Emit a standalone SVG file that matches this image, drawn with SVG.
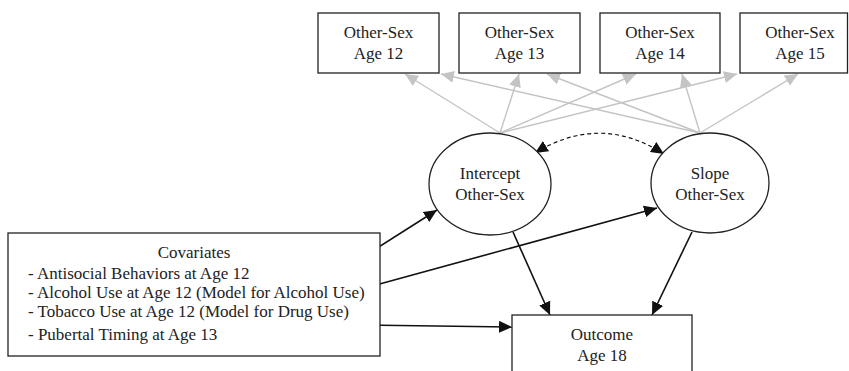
<svg xmlns="http://www.w3.org/2000/svg" width="849" height="371" viewBox="0 0 849 371">
<style>
text{font-family:"Liberation Serif","Times New Roman",serif;font-size:17px;fill:#222}
.c{text-anchor:middle}
.box{fill:#fff;stroke:#222;stroke-width:1.3}
.ell{fill:#fff;stroke:#222;stroke-width:1.3}
.g{stroke:#c4c4c4;stroke-width:1.4;fill:none;marker-end:url(#ag)}
.b{stroke:#111;stroke-width:1.6;fill:none;marker-end:url(#ab)}
.d{stroke:#111;stroke-width:1.2;fill:none;stroke-dasharray:4,3;marker-end:url(#ab);marker-start:url(#abs)}
</style>
<defs>
<marker id="ag" markerUnits="userSpaceOnUse" markerWidth="14" markerHeight="12" refX="13" refY="6" orient="auto"><path d="M0,0 L13,6 L0,12 z" fill="#c4c4c4"/></marker>
<marker id="ab" markerUnits="userSpaceOnUse" markerWidth="14" markerHeight="12" refX="13" refY="6" orient="auto"><path d="M0,0 L13,6 L0,12 z" fill="#111"/></marker>
<marker id="abs" markerUnits="userSpaceOnUse" markerWidth="14" markerHeight="12" refX="13" refY="6" orient="auto-start-reverse"><path d="M0,0 L13,6 L0,12 z" fill="#111"/></marker>
</defs>
<rect width="849" height="371" fill="#fff"/>
<g id="connectors">
<line class="g" x1="500" y1="133" x2="405" y2="74"/>
<line class="g" x1="500" y1="133" x2="519" y2="74"/>
<line class="g" x1="500" y1="133" x2="636" y2="74"/>
<line class="g" x1="500" y1="133" x2="737" y2="74"/>
<line class="g" x1="700" y1="133" x2="441" y2="74"/>
<line class="g" x1="700" y1="133" x2="547" y2="74"/>
<line class="g" x1="700" y1="133" x2="682" y2="74"/>
<line class="g" x1="700" y1="133" x2="798" y2="74"/>
<path class="d" d="M535,153 Q600,113 664,154"/>
<line class="b" x1="363" y1="257" x2="437" y2="210"/>
<line class="b" x1="365" y1="288" x2="657" y2="208"/>
<line class="b" x1="362" y1="325" x2="512" y2="327"/>
<line class="b" x1="513" y1="232" x2="550" y2="315"/>
<line class="b" x1="692" y1="232" x2="652" y2="315"/>
</g>
<g id="os12"><rect class="box" x="318" y="13" width="121" height="60"/><text class="c" x="378.5" y="38">Other-Sex</text><text class="c" x="378.5" y="59">Age 12</text></g>
<g id="os13"><rect class="box" x="459" y="13" width="121" height="60"/><text class="c" x="519.5" y="38">Other-Sex</text><text class="c" x="519.5" y="59">Age 13</text></g>
<g id="os14"><rect class="box" x="600" y="13" width="120" height="60"/><text class="c" x="660" y="38">Other-Sex</text><text class="c" x="660" y="59">Age 14</text></g>
<g id="os15"><rect class="box" x="740" y="13" width="107.5" height="60"/><text class="c" x="800" y="38">Other-Sex</text><text class="c" x="800" y="59">Age 15</text></g>
<g id="intercept"><ellipse class="ell" cx="490" cy="184" rx="61" ry="51"/><text class="c" x="490" y="179">Intercept</text><text class="c" x="490" y="200">Other-Sex</text></g>
<g id="slope"><ellipse class="ell" cx="710" cy="183" rx="59" ry="50"/><text class="c" x="710" y="179">Slope</text><text class="c" x="710" y="200">Other-Sex</text></g>
<g id="covariates"><rect class="box" x="8" y="233" width="372" height="123"/>
<text class="c" x="194" y="258">Covariates</text>
<text x="28" y="279">- Antisocial Behaviors at Age 12</text>
<text x="28" y="298">- Alcohol Use at Age 12 (Model for Alcohol Use)</text>
<text x="28" y="317">- Tobacco Use at Age 12 (Model for Drug Use)</text>
<text x="28" y="340">- Pubertal Timing at Age 13</text></g>
<g id="outcome"><rect class="box" x="512" y="315" width="180" height="70"/><text class="c" x="602" y="340">Outcome</text><text class="c" x="602" y="361">Age 18</text></g>
</svg>
